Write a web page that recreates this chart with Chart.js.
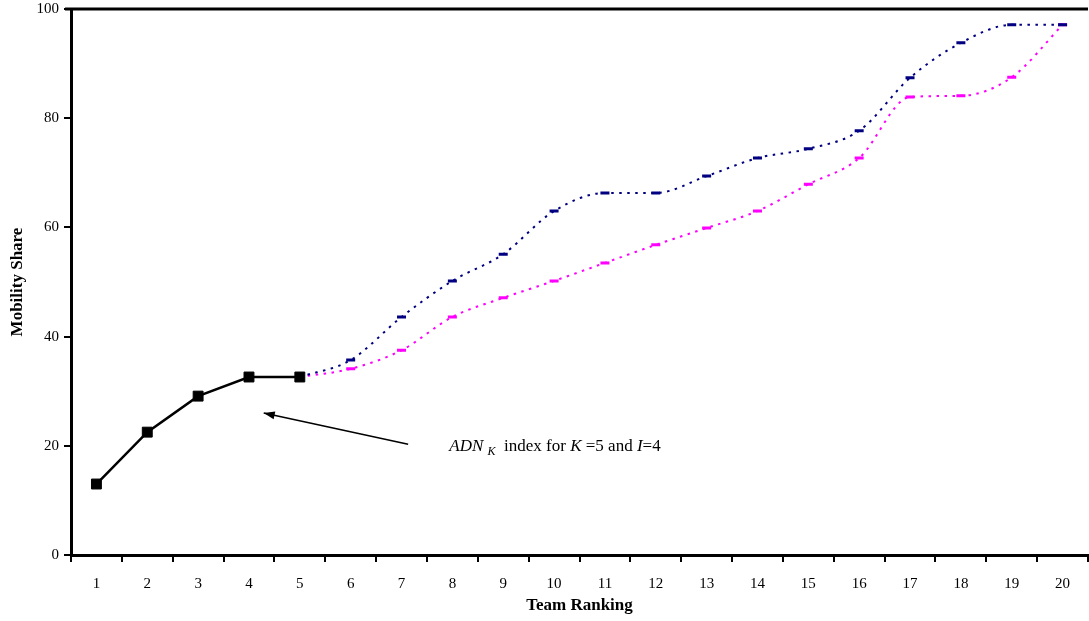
<!DOCTYPE html>
<html>
<head>
<meta charset="utf-8">
<script src="https://cdn.jsdelivr.net/npm/chart.js@4"></script>
<style>
  html, body { margin: 0; padding: 0; background: #fff; overflow: hidden; }
  #wrap { position: relative; width: 1096px; height: 621px; }
</style>
</head>
<body>
<div id="wrap"><canvas id="c"></canvas></div>
<script>
const categories = ['1','2','3','4','5','6','7','8','9','10','11','12','13','14','15','16','17','18','19','20'];
const adnValues = [13.0, 22.5, 29.1, 32.6, 32.6, null, null, null, null, null, null, null, null, null, null, null, null, null, null, null];
const upperValues = [null, null, null, null, 32.6, 35.7, 43.6, 50.2, 55.1, 63.0, 66.3, 66.3, 69.4, 72.7, 74.4, 77.7, 87.4, 93.8, 97.1, 97.1];
const lowerValues = [null, null, null, null, 32.6, 34.1, 37.5, 43.6, 47.1, 50.2, 53.5, 56.8, 59.9, 63.0, 67.9, 72.7, 83.9, 84.1, 87.5, 97.1];
const yTicks = [0, 20, 40, 60, 80, 100];
const xTitle = 'Team Ranking';
const yTitle = 'Mobility Share';
// annotation: [x (category index), y (value)]
const arrowTail = [6.13, 20.3];
const arrowTip = [3.29, 26.0];
const notePos = [6.94, 19.0];

const serif = "'Liberation Serif', 'Times New Roman', serif";

const hidePointFirst = upperValues.map((v, i) => i === 4 ? 0 : 4.5);

const extras = {
  id: 'extras',
  afterDraw(chart) {
    const ctx = chart.ctx;
    const a = chart.chartArea;
    const xs = chart.scales.x, ys = chart.scales.y;
    ctx.save();
    // top frame line
    ctx.strokeStyle = '#000';
    ctx.lineWidth = 3;
    ctx.beginPath();
    ctx.moveTo(a.left - 6, a.top);
    ctx.lineTo(a.right, a.top);
    ctx.stroke();
    // arrow
    const tx = xs.getPixelForValue(arrowTail[0]), ty = ys.getPixelForValue(arrowTail[1]);
    const hx = xs.getPixelForValue(arrowTip[0]), hy = ys.getPixelForValue(arrowTip[1]);
    ctx.lineWidth = 1.6;
    ctx.beginPath();
    ctx.moveTo(tx, ty);
    ctx.lineTo(hx, hy);
    ctx.stroke();
    const ang = Math.atan2(hy - ty, hx - tx);
    const L = 11, W = 4;
    ctx.fillStyle = '#000';
    ctx.beginPath();
    ctx.moveTo(hx, hy);
    ctx.lineTo(hx - L * Math.cos(ang) + W * Math.sin(ang), hy - L * Math.sin(ang) - W * Math.cos(ang));
    ctx.lineTo(hx - L * Math.cos(ang) - W * Math.sin(ang), hy - L * Math.sin(ang) + W * Math.cos(ang));
    ctx.closePath();
    ctx.fill();
    // note text
    let x = xs.getPixelForValue(notePos[0]);
    const y = ys.getPixelForValue(notePos[1]);
    ctx.textBaseline = 'alphabetic';
    ctx.textAlign = 'left';
    const parts = [
      ['ADN', 'italic 17px ' + serif, 0],
      [' ', '17px ' + serif, 0],
      ['K', 'italic 12px ' + serif, 4],
      ['  index for ', '17px ' + serif, 0],
      ['K', 'italic 17px ' + serif, 0],
      [' =5 and ', '17px ' + serif, 0],
      ['I', 'italic 17px ' + serif, 0],
      ['=4', '17px ' + serif, 0]
    ];
    for (const [t, f, dy] of parts) {
      ctx.font = f;
      ctx.fillText(t, x, y + dy);
      x += ctx.measureText(t).width;
    }
    ctx.restore();
  }
};

new Chart(document.getElementById('c'), {
  type: 'line',
  data: {
    labels: categories,
    datasets: [
      {
        label: 'ADN',
        data: adnValues,
        borderColor: '#000',
        backgroundColor: '#000',
        borderWidth: 2.5,
        pointStyle: 'rect',
        pointRadius: 7,
        pointBorderWidth: 1,
        tension: 0,
        spanGaps: false
      },
      {
        label: 'Upper',
        data: upperValues,
        borderColor: '#000080',
        backgroundColor: '#000080',
        borderWidth: 2,
        borderDash: [2.5, 5.5],
        pointStyle: 'line',
        pointRadius: hidePointFirst,
        pointBorderWidth: 3,
        cubicInterpolationMode: 'monotone'
      },
      {
        label: 'Lower',
        data: lowerValues,
        borderColor: '#FF00FF',
        backgroundColor: '#FF00FF',
        borderWidth: 2,
        borderDash: [2.5, 5.5],
        pointStyle: 'line',
        pointRadius: hidePointFirst,
        pointBorderWidth: 3,
        cubicInterpolationMode: 'monotone'
      }
    ]
  },
  options: {
    responsive: true,
    maintainAspectRatio: false,
    animation: false,
    layout: { padding: { top: 9, right: 2, left: 0, bottom: 0 } },
    plugins: { legend: { display: false }, tooltip: { enabled: false } },
    scales: {
      x: {
        type: 'category',
        offset: true,
        grid: { display: true, offset: true, drawOnChartArea: false, drawTicks: true, tickLength: 7, color: '#000', lineWidth: 2 },
        border: { display: true, color: '#000', width: 3 },
        ticks: { color: '#000', font: { family: serif, size: 15 }, padding: 13, maxRotation: 0, autoSkip: false },
        title: { display: true, text: xTitle, color: '#000', font: { family: serif, size: 17, weight: 'bold' }, padding: { top: 0, bottom: 5 } },
        afterFit(s) { s.height = 66; s.paddingLeft = 0; s.paddingRight = 0; }
      },
      y: {
        min: 0,
        max: 100,
        afterBuildTicks(s) { s.ticks = yTicks.map(v => ({ value: v })); },
        grid: { display: true, drawOnChartArea: false, drawTicks: true, tickLength: 7, color: '#000', lineWidth: 2 },
        border: { display: true, color: '#000', width: 3 },
        ticks: { color: '#000', font: { family: serif, size: 15 }, padding: 5 },
        title: { display: true, text: yTitle, color: '#000', font: { family: serif, size: 17, weight: 'bold' }, padding: { top: 7, bottom: 4 } },
        afterFit(s) { s.width = 71; s.paddingTop = 0; s.paddingBottom = 0; }
      }
    }
  },
  plugins: [extras]
});
</script>
</body>
</html>
